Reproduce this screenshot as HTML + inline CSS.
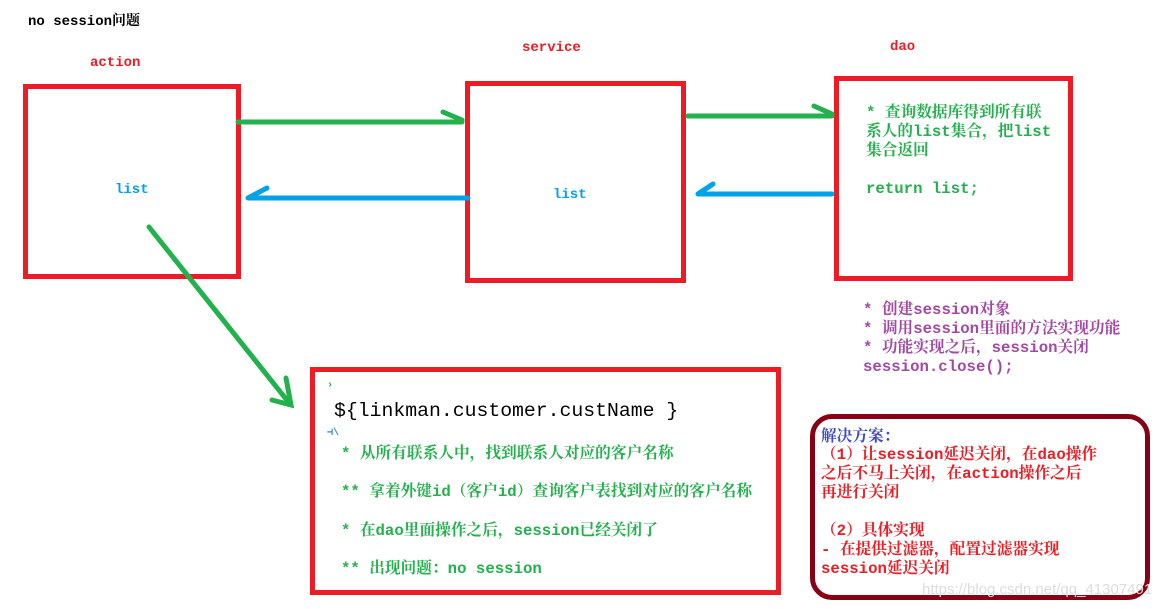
<!DOCTYPE html>
<html><head><meta charset="utf-8"><style>
body{margin:0;width:1172px;height:609px;background:#fff;position:relative;overflow:hidden;font-family:"Liberation Mono","Noto Serif CJK SC","Noto Sans CJK SC",monospace;font-weight:bold;font-size:14px}
.t{position:absolute;white-space:nowrap;line-height:19px}
.b{font-size:15.7px}
.box{position:absolute;border:5px solid #ed1c24;box-sizing:border-box}
</style></head><body>
<div class="box" style="left:23px;top:84px;width:218px;height:195px"></div>
<div class="box" style="left:465px;top:81px;width:221px;height:202px"></div>
<div class="box" style="left:834px;top:76px;width:239px;height:205px"></div>
<div class="box" style="left:310px;top:367px;width:471px;height:228px"></div>
<div style="position:absolute;left:810px;top:414px;width:340px;height:186px;border:5px solid #880015;border-radius:22px;box-sizing:border-box"></div>
<svg width="1172" height="609" style="position:absolute;left:0;top:0" fill="none" stroke-linecap="round" stroke-width="5">
<g stroke="#22b14c">
<path d="M238 122H462M443 112L462 120"/>
<path d="M688 116H832M814 106L832 114"/>
<path d="M149 227L290 404M286 378L291 405L272 400"/>
</g>
<g stroke="#00a2e8">
<path d="M468 198H248M267 188L248 198"/>
<path d="M832 194H698M713 184L698 194"/>
</g>
</svg>
<div class="t" style="left:28px;top:13px;color:#000">no session问题</div>
<div class="t" style="left:90px;top:54px;color:#ed1c24">action</div>
<div class="t" style="left:522px;top:39px;color:#ed1c24">service</div>
<div class="t" style="left:890px;top:38px;color:#ed1c24">dao</div>
<div class="t" style="left:115px;top:181px;color:#00a2e8">list</div>
<div class="t" style="left:553px;top:186px;color:#00a2e8">list</div>
<div class="t b" style="left:866px;top:104px;color:#22b14c">* 查询数据库得到所有联<br>系人的list集合，把list<br>集合返回<br><br>return list;</div>
<div class="t b" style="left:863px;top:301px;color:#a349a4">* 创建session对象<br>* 调用session里面的方法实现功能<br>* 功能实现之后，session关闭<br>session.close();</div>
<div class="t" style="left:327px;top:376px;color:#2a8fbf;font-size:10px">›</div>
<div class="t" style="left:327px;top:424px;color:#2a8fbf;font-size:10px">⊣\</div>
<div class="t" style="left:334px;top:399px;color:#000;font-family:'Liberation Mono',monospace;font-weight:normal;font-size:19.8px;line-height:24px">${linkman.customer.custName }</div>
<div class="t b" style="left:341px;top:435px;color:#22b14c;line-height:38.3px">* 从所有联系人中，找到联系人对应的客户名称<br>** 拿着外键id（客户id）查询客户表找到对应的客户名称<br>* 在dao里面操作之后，session已经关闭了<br>** 出现问题：no session</div>
<div class="t b" style="left:821px;top:428px;color:#3f48cc">解决方案：</div>
<div class="t b" style="left:821px;top:446px;color:#ed1c24">（1）让session延迟关闭，在dao操作<br>之后不马上关闭，在action操作之后<br>再进行关闭<br><br>（2）具体实现<br>- 在提供过滤器，配置过滤器实现<br>session延迟关闭</div>
<div class="t" style="left:922px;top:580px;color:#ddd;font-weight:normal;font-family:'Liberation Sans',sans-serif;font-size:15px">https://blog.csdn.net/qq_41307491</div>
</body></html>
